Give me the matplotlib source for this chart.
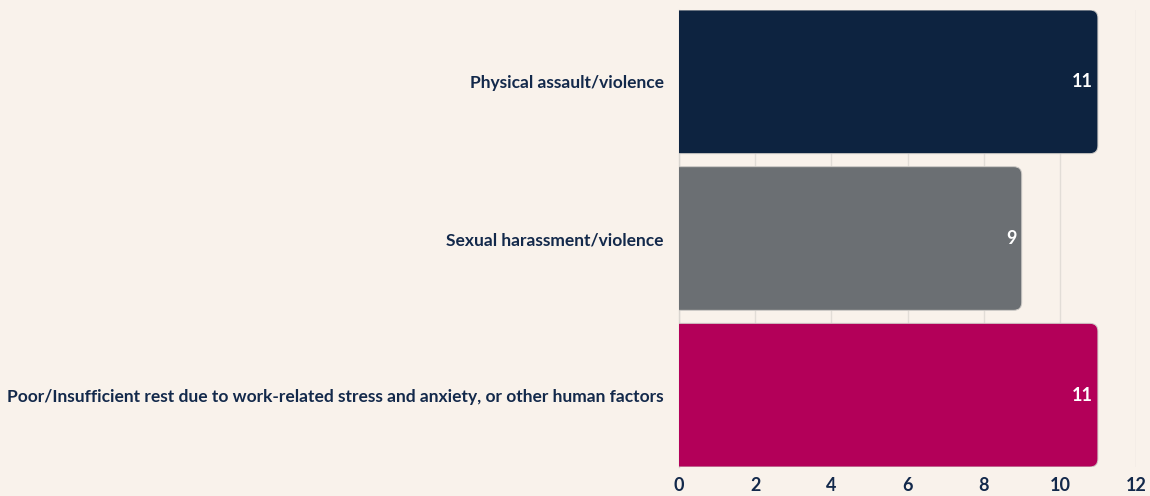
import matplotlib
matplotlib.use("Agg")
import matplotlib.pyplot as plt
from matplotlib.patches import FancyBboxPatch

categories = ["Physical assault/violence",
              "Sexual harassment/violence",
              "Poor/Insufficient rest due to work-related stress and anxiety, or other human factors"]
values = [11, 9, 11]
colors = ["#0d2340", "#6b6f73", "#b30059"]
xticks = [0, 2, 4, 6, 8, 10, 12]

bg = "#f9f2eb"
txt = "#13294b"
plt.rcParams['font.family'] = ['Lato', 'DejaVu Sans']

W, H = 1150, 496
fig = plt.figure(figsize=(W/100, H/100), dpi=100, facecolor=bg)
ax = fig.add_axes([679/W, 1-467/H, (1136-679)/W, (467-10)/H])
ax.set_facecolor(bg)

bh = 0.917
ax.set_xlim(0, 12)
ax.set_ylim(2 + bh/2, -bh/2)

bars = ax.barh(range(len(values)), values, height=bh, color=colors)
# replace bars with rounded ones (right corners rounded, left clipped at axis)
xpx = (1136-679)/12.0
ypx = 157.0
r_px = 8.0
for b, c in zip(bars, colors):
    x0, y0 = b.get_x(), b.get_y()
    w, h = b.get_width(), b.get_height()
    b.set_visible(False)
    ext = 0.5
    p = FancyBboxPatch((x0 - ext, y0), w + ext, h,
                       boxstyle=f"round,pad=0,rounding_size={r_px/xpx}",
                       mutation_aspect=xpx/ypx,
                       facecolor=c, edgecolor="#cfccc8", linewidth=0.7,
                       zorder=3, clip_on=True)
    ax.add_patch(p)

for i, v in enumerate(values):
    ax.annotate(str(v), (v, i), xytext=(-3.5, 0), textcoords="offset points",
                ha="right", va="center", color="white", fontsize=13,
                fontweight="bold", zorder=4)

ax.set_xticks(xticks)
ax.set_xticklabels([str(t) for t in xticks], fontsize=13, fontweight="bold", color=txt)
ax.set_yticks(range(len(categories)))
ax.set_yticklabels(categories, fontsize=12.5, fontweight="bold", color=txt)
ax.tick_params(axis="both", length=0)
ax.tick_params(axis="y", pad=11)
ax.tick_params(axis="x", pad=7)
ax.grid(axis="x", color="#e2ddd7", linewidth=1, zorder=0)
ax.set_axisbelow(True)
for s in ["top", "right", "bottom"]:
    ax.spines[s].set_visible(False)
ax.spines["left"].set_color("#d9d5d0")
ax.spines["left"].set_linewidth(1)

fig.savefig("out.png", dpi=100, facecolor=bg)
